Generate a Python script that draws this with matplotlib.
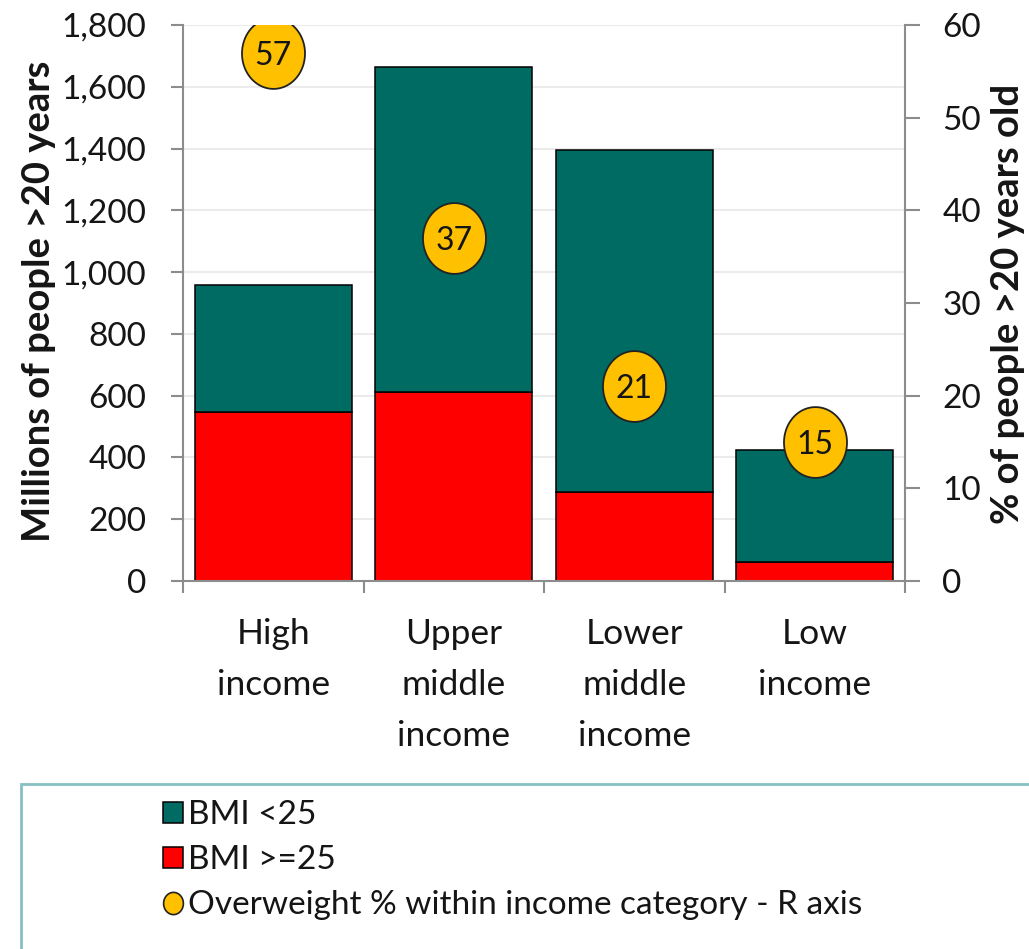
import matplotlib
matplotlib.use("Agg")
import matplotlib.pyplot as plt
import numpy as np
from matplotlib.patches import Rectangle, Patch
from matplotlib.lines import Line2D
from matplotlib.path import Path
from matplotlib.ticker import FuncFormatter

# ---- data (millions of adults > 20 years, by income group) ----
categories = ["High\nincome", "Upper\nmiddle\nincome", "Lower\nmiddle\nincome", "Low\nincome"]
bmi_over = [548, 611, 289, 62]        # BMI >= 25
bmi_under = [410, 1054, 1106, 362]    # BMI < 25
overweight_pct = [57, 37, 21, 15]     # right axis
left_ticks = [0, 200, 400, 600, 800, 1000, 1200, 1400, 1600, 1800]
right_ticks = [0, 10, 20, 30, 40, 50, 60]
legend_labels = ["BMI <25", "BMI >=25", "Overweight % within income category - R axis"]

TEAL = "#006B63"
RED = "#FF0000"
GOLD = "#FFC000"
TXT = "#151515"
AXC = "#8C8C8C"
FONT = "Lato"

plt.rcParams["font.family"] = [FONT, "DejaVu Sans"]
plt.rcParams["text.color"] = TXT
plt.rcParams["xtick.color"] = AXC
plt.rcParams["ytick.color"] = AXC
plt.rcParams["xtick.labelcolor"] = TXT
plt.rcParams["ytick.labelcolor"] = TXT

W, H, DPI = 1029, 949, 100
fig = plt.figure(figsize=(W / DPI, H / DPI), dpi=DPI)
fig.patch.set_facecolor("white")

x0, x1, ytop, ybot = 183, 905, 25, 581
ax = fig.add_axes([x0 / W, (H - ybot) / H, (x1 - x0) / W, (ybot - ytop) / H])

x = np.arange(len(categories))
bw = 0.87
ax.bar(x, bmi_over, bw, color=RED, edgecolor="black", linewidth=1.1, zorder=2)
ax.bar(x, bmi_under, bw, bottom=bmi_over, color=TEAL, edgecolor="black",
       linewidth=1.1, zorder=2)

ax.set_xlim(-0.5, len(categories) - 0.5)
ax.set_ylim(0, 1800)
ax.set_yticks(left_ticks)
ax.yaxis.set_major_formatter(FuncFormatter(lambda v, p: f"{v:,.0f}"))
ax.yaxis.grid(True, color="#EBEBEB", linewidth=1.5)
ax.set_axisbelow(True)

# category boundaries as ticks, names centred between them
ax.set_xticks(np.arange(len(categories) + 1) - 0.5)
ax.set_xticklabels([])
ax.set_xticks(x, minor=True)
ax.set_xticklabels(categories, minor=True, fontsize=25.5, linespacing=1.72)
ax.tick_params(axis="x", which="major", direction="out", length=8.5, width=1.5)
ax.tick_params(axis="x", which="minor", length=0, pad=27)
ax.tick_params(axis="y", direction="out", length=8.5, width=1.5, labelsize=24, pad=18)

for s in ("top", "right"):
    ax.spines[s].set_visible(False)
for s in ("left", "bottom"):
    ax.spines[s].set_color(AXC)
    ax.spines[s].set_linewidth(1.5)

# right axis with overweight share markers
ax2 = ax.twinx()
ax2.set_ylim(0, 60)
ax2.set_yticks(right_ticks)
ax2.tick_params(axis="y", direction="out", length=11, width=1.5, labelsize=24, pad=16)
for s in ("top", "left", "bottom"):
    ax2.spines[s].set_visible(False)
ax2.spines["right"].set_color(AXC)
ax2.spines["right"].set_linewidth(1.5)

t = np.linspace(0, 2 * np.pi, 73)
oval = Path(np.column_stack([0.89 * np.cos(t), np.sin(t)]), closed=True)
ax2.plot(x, overweight_pct, linestyle="none", marker=oval, markersize=51,
         markerfacecolor=GOLD, markeredgecolor="#222222", markeredgewidth=1.3, zorder=5)
for xi, p in zip(x, overweight_pct):
    ax2.text(xi, p, f"{p}", ha="center", va="center_baseline", fontsize=23,
             color=TXT, zorder=6)

# axis titles (anchored on their baselines)
fig.text(50 / W, 1 - 301 / H, "Millions of people >20 years", rotation=90,
         rotation_mode="anchor", ha="center", va="baseline",
         fontsize=27.5, fontweight="bold", color=TXT)
fig.text(1019 / W, 1 - 304 / H, "% of people >20 years old", rotation=90,
         rotation_mode="anchor", ha="center", va="baseline",
         fontsize=27.5, fontweight="bold", color=TXT)

# legend panel
fig.patches.append(Rectangle((21 / W, -0.05), 1.1, (H - 784) / H + 0.05,
                             transform=fig.transFigure, fill=False,
                             edgecolor="#86C0C0", linewidth=2))
handles = [
    Patch(facecolor=TEAL, edgecolor="black", linewidth=1.1),
    Patch(facecolor=RED, edgecolor="black", linewidth=1.1),
    Line2D([], [], linestyle="none", marker=oval, markersize=16,
           markerfacecolor=GOLD, markeredgecolor="#222222", markeredgewidth=1.2),
]
fig.legend(handles, legend_labels, loc="upper left",
           bbox_to_anchor=(163 / W, 1 - 800 / H), frameon=False, fontsize=24,
           handlelength=0.6, handleheight=0.6, handletextpad=0.15,
           labelspacing=0.45, borderpad=0, borderaxespad=0)

fig.savefig("out.png", dpi=DPI)
